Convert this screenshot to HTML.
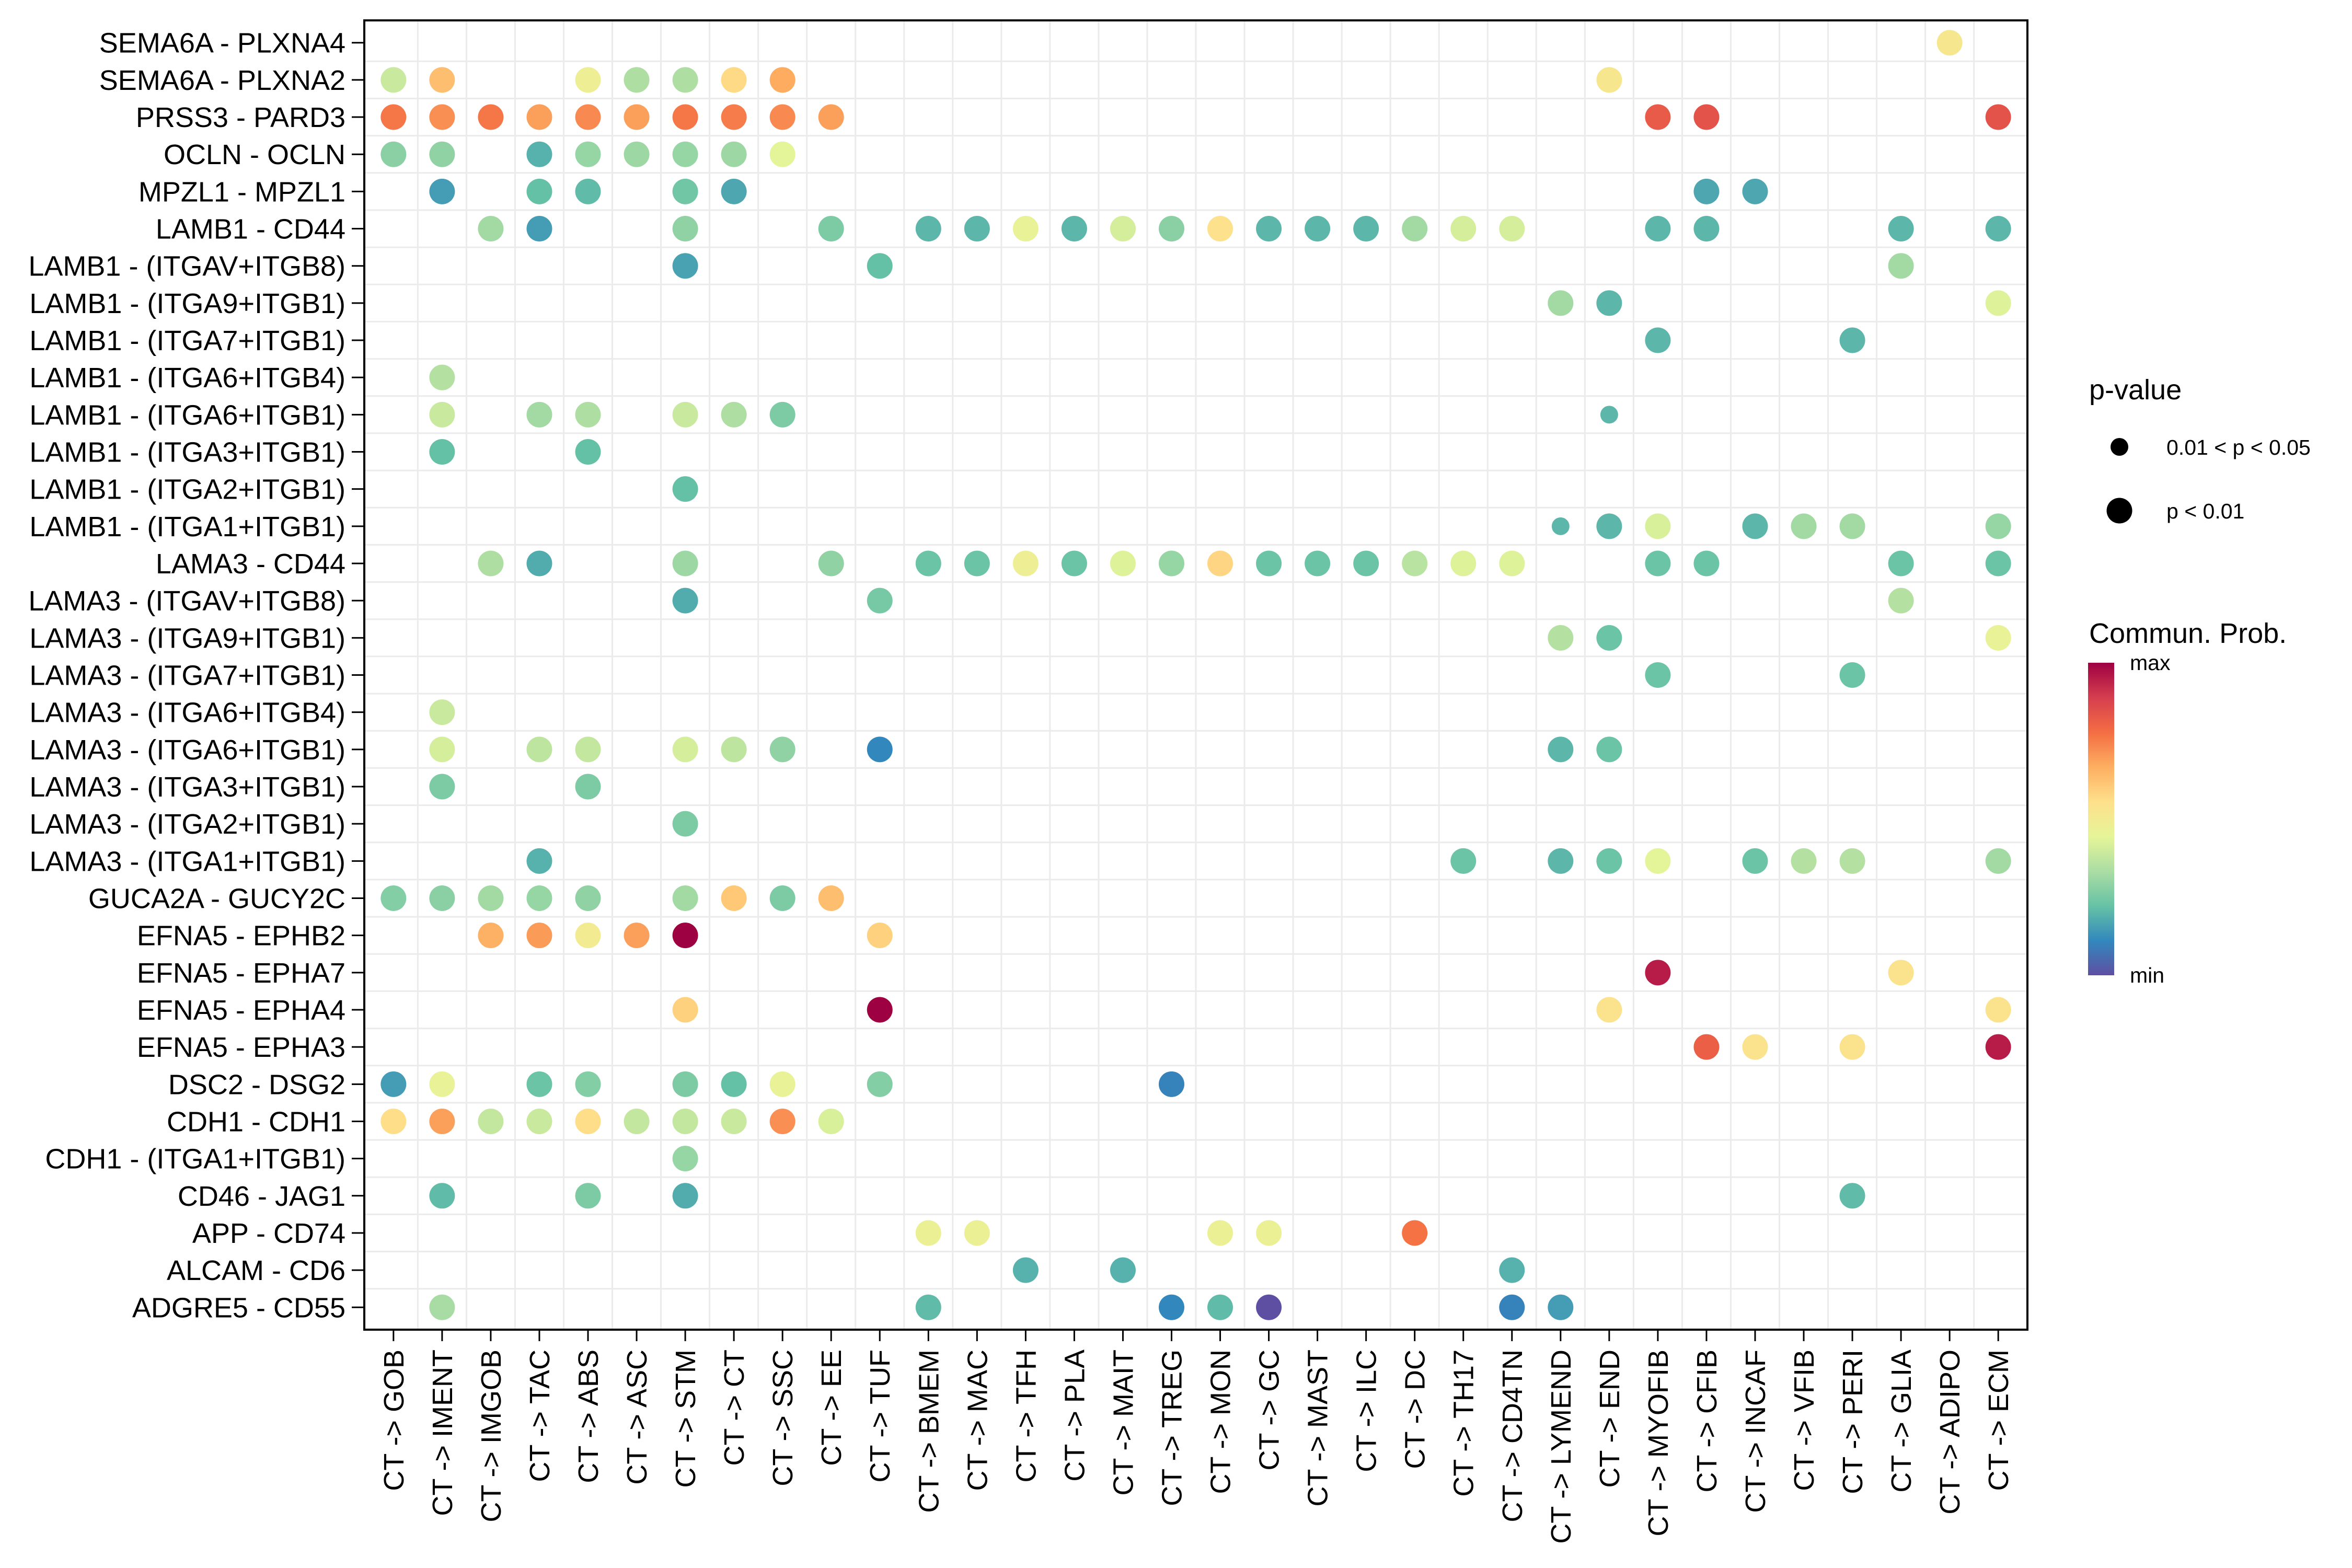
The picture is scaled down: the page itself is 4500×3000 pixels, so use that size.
<!DOCTYPE html>
<html><head><meta charset="utf-8"><style>
html,body{margin:0;padding:0;background:#fff;}
svg{display:block;font-family:"Liberation Sans",Arial,sans-serif;}
</style></head><body>
<svg id="chart" width="4500" height="3000" viewBox="0 0 4500 3000" xmlns="http://www.w3.org/2000/svg">
<defs>
<linearGradient id="spec" x1="0" y1="1" x2="0" y2="0">
<stop offset="0" stop-color="#5E4FA2"/><stop offset="0.111" stop-color="#3288BD"/><stop offset="0.222" stop-color="#66C2A5"/><stop offset="0.333" stop-color="#ABDDA4"/><stop offset="0.444" stop-color="#E6F598"/><stop offset="0.556" stop-color="#FEE08B"/><stop offset="0.667" stop-color="#FDAE61"/><stop offset="0.778" stop-color="#F46D43"/><stop offset="0.889" stop-color="#D53E4F"/><stop offset="1" stop-color="#9E0142"/>
</linearGradient>
</defs>
<g id="grid"></g>
<g id="dots"></g>
<rect x="697" y="39" width="3182" height="2505" fill="none" stroke="#000" stroke-width="4"/>
<g id="yaxis"></g>
<g id="xaxis"></g>
<g>
<text x="3997" y="764" font-size="54">p-value</text>
<circle cx="4055" cy="855" r="17" fill="#000"/>
<text x="4145" y="870" font-size="41">0.01 &lt; p &lt; 0.05</text>
<circle cx="4055" cy="977" r="24.5" fill="#000"/>
<text x="4145" y="992" font-size="41">p &lt; 0.01</text>
</g>
<g>
<text x="3997" y="1230" font-size="54">Commun. Prob.</text>
<rect x="3995" y="1268" width="50" height="598" fill="url(#spec)"/>
<text x="4075" y="1282" font-size="41">max</text>
<text x="4075" y="1880" font-size="41">min</text>
</g>
</svg>
<script>
const pairs = ["SEMA6A - PLXNA4","SEMA6A - PLXNA2","PRSS3 - PARD3","OCLN - OCLN","MPZL1 - MPZL1","LAMB1 - CD44","LAMB1 - (ITGAV+ITGB8)","LAMB1 - (ITGA9+ITGB1)","LAMB1 - (ITGA7+ITGB1)","LAMB1 - (ITGA6+ITGB4)","LAMB1 - (ITGA6+ITGB1)","LAMB1 - (ITGA3+ITGB1)","LAMB1 - (ITGA2+ITGB1)","LAMB1 - (ITGA1+ITGB1)","LAMA3 - CD44","LAMA3 - (ITGAV+ITGB8)","LAMA3 - (ITGA9+ITGB1)","LAMA3 - (ITGA7+ITGB1)","LAMA3 - (ITGA6+ITGB4)","LAMA3 - (ITGA6+ITGB1)","LAMA3 - (ITGA3+ITGB1)","LAMA3 - (ITGA2+ITGB1)","LAMA3 - (ITGA1+ITGB1)","GUCA2A - GUCY2C","EFNA5 - EPHB2","EFNA5 - EPHA7","EFNA5 - EPHA4","EFNA5 - EPHA3","DSC2 - DSG2","CDH1 - CDH1","CDH1 - (ITGA1+ITGB1)","CD46 - JAG1","APP - CD74","ALCAM - CD6","ADGRE5 - CD55"];
const targets = ["GOB","IMENT","IMGOB","TAC","ABS","ASC","STM","CT","SSC","EE","TUF","BMEM","MAC","TFH","PLA","MAIT","TREG","MON","GC","MAST","ILC","DC","TH17","CD4TN","LYMEND","END","MYOFIB","CFIB","INCAF","VFIB","PERI","GLIA","ADIPO","ECM"];
// per row: "TARGET:prob" entries; suffix "s" = 0.01<p<0.05 (small dot)
const rowDots = [
"ADIPO:0.52",
"GOB:0.39 IMENT:0.63 ABS:0.48 ASC:0.34 STM:0.34 CT:0.57 SSC:0.67 END:0.52",
"GOB:0.76 IMENT:0.72 IMGOB:0.76 TAC:0.69 ABS:0.73 ASC:0.69 STM:0.76 CT:0.75 SSC:0.73 EE:0.69 MYOFIB:0.82 CFIB:0.84 ECM:0.84",
"GOB:0.28 IMENT:0.29 TAC:0.19 ABS:0.30 ASC:0.31 STM:0.30 CT:0.31 SSC:0.44",
"IMENT:0.15 TAC:0.22 ABS:0.21 STM:0.24 CT:0.17 CFIB:0.17 INCAF:0.17",
"IMGOB:0.32 TAC:0.15 STM:0.29 EE:0.26 BMEM:0.20 MAC:0.20 TFH:0.46 PLA:0.20 MAIT:0.41 TREG:0.28 MON:0.55 GC:0.20 MAST:0.20 ILC:0.20 DC:0.32 TH17:0.41 CD4TN:0.41 MYOFIB:0.20 CFIB:0.20 GLIA:0.20 ECM:0.20",
"STM:0.16 TUF:0.22 GLIA:0.32",
"LYMEND:0.32 END:0.20 ECM:0.43",
"MYOFIB:0.20 PERI:0.20",
"IMENT:0.35",
"IMENT:0.39 TAC:0.32 ABS:0.34 STM:0.39 CT:0.34 SSC:0.26 END:0.20s",
"IMENT:0.22 ABS:0.22",
"STM:0.22",
"LYMEND:0.20s END:0.20 MYOFIB:0.42 INCAF:0.20 VFIB:0.32 PERI:0.32 ECM:0.30",
"IMGOB:0.34 TAC:0.18 STM:0.31 EE:0.29 BMEM:0.23 MAC:0.23 TFH:0.48 PLA:0.23 MAIT:0.43 TREG:0.30 MON:0.58 GC:0.23 MAST:0.23 ILC:0.23 DC:0.36 TH17:0.43 CD4TN:0.43 MYOFIB:0.23 CFIB:0.23 GLIA:0.23 ECM:0.23",
"STM:0.18 TUF:0.25 GLIA:0.35",
"LYMEND:0.35 END:0.23 ECM:0.46",
"MYOFIB:0.23 PERI:0.23",
"IMENT:0.39",
"IMENT:0.41 TAC:0.37 ABS:0.38 STM:0.41 CT:0.37 SSC:0.29 TUF:0.11 LYMEND:0.20 END:0.23",
"IMENT:0.26 ABS:0.26",
"STM:0.26",
"TAC:0.19 TH17:0.23 LYMEND:0.20 END:0.23 MYOFIB:0.44 INCAF:0.23 VFIB:0.35 PERI:0.35 ECM:0.32",
"GOB:0.27 IMENT:0.28 IMGOB:0.32 TAC:0.30 ABS:0.29 STM:0.32 CT:0.61 SSC:0.26 EE:0.63",
"IMGOB:0.66 TAC:0.70 ABS:0.50 ASC:0.69 STM:1.00 TUF:0.59",
"MYOFIB:0.95 GLIA:0.54",
"STM:0.59 TUF:1.00 END:0.54 ECM:0.54",
"CFIB:0.81 INCAF:0.54 PERI:0.54 ECM:0.95",
"GOB:0.15 IMENT:0.46 TAC:0.23 ABS:0.27 STM:0.26 CT:0.22 SSC:0.46 TUF:0.27 TREG:0.10",
"GOB:0.56 IMENT:0.69 IMGOB:0.38 TAC:0.39 ABS:0.56 ASC:0.38 STM:0.38 CT:0.39 SSC:0.72 EE:0.42",
"STM:0.30",
"IMENT:0.21 ABS:0.26 STM:0.18 PERI:0.21",
"BMEM:0.47 MAC:0.47 MON:0.47 GC:0.47 DC:0.77",
"TFH:0.19 MAIT:0.19 CD4TN:0.19",
"IMENT:0.33 BMEM:0.21 TREG:0.11 MON:0.21 GC:0.00 CD4TN:0.10 LYMEND:0.15"
];
const palette = ["#5E4FA2","#3288BD","#66C2A5","#ABDDA4","#E6F598","#FEE08B","#FDAE61","#F46D43","#D53E4F","#9E0142"];
const sizeLevels = [17, 24.5];

const NS = "http://www.w3.org/2000/svg";
const PX0 = 697, PX1 = 3879, PY0 = 39, PY1 = 2544;
const xStep = (PX1 - PX0) / (targets.length - 1 + 1.2);
const yStep = (PY1 - PY0) / (pairs.length - 1 + 1.2);
function xPos(i){ return PX0 + (0.6 + i) * xStep; }
function yPos(j){ return PY0 + (0.6 + j) * yStep; }
function hex(h){ return [parseInt(h.substr(1,2),16),parseInt(h.substr(3,2),16),parseInt(h.substr(5,2),16)]; }
function colorOf(v){
  const t = Math.max(0, Math.min(1, v)) * (palette.length - 1);
  const k = Math.min(palette.length - 2, Math.floor(t)), f = t - k;
  const a = hex(palette[k]), b = hex(palette[k+1]);
  return "rgb(" + a.map((c,i)=>Math.round(c + (b[i]-c)*f)).join(",") + ")";
}
function mk(tag, attrs, parent){
  const el = document.createElementNS(NS, tag);
  for (const k in attrs) el.setAttribute(k, attrs[k]);
  parent.appendChild(el);
  return el;
}
const grid = document.getElementById("grid");
for (let i = 0; i < targets.length - 1; i++) {
  const x = (xPos(i) + xPos(i+1)) / 2;
  const ln = mk("line", {x1:x, x2:x, y1:PY0, y2:PY1, stroke:"#ebebeb", "stroke-width":3}, grid);
  
  
}
for (let j = 0; j < pairs.length - 1; j++) {
  const y = (yPos(j) + yPos(j+1)) / 2;
  const ln = mk("line", {x1:PX0, x2:PX1, y1:y, y2:y, stroke:"#ebebeb", "stroke-width":3}, grid);
  
  
}
const yax = document.getElementById("yaxis");
pairs.forEach((p, j) => {
  const y = yPos(j);
  const tk = mk("line", {x1:PX0-24, x2:PX0, y1:y, y2:y, stroke:"#000", "stroke-width":3}, yax);
  
  
  const t = mk("text", {x:PX0-36, y:y+19, "font-size":54, "text-anchor":"end", fill:"#000"}, yax);
  t.textContent = p;
  
  
});
const xax = document.getElementById("xaxis");
targets.forEach((c, i) => {
  const x = xPos(i);
  const tk = mk("line", {x1:x, x2:x, y1:PY1, y2:PY1+22, stroke:"#000", "stroke-width":3}, xax);
  
  
  const t = mk("text", {transform:"translate(" + (x+19) + "," + (PY1+38) + ") rotate(-90)", "font-size":54, "text-anchor":"end", fill:"#000"}, xax);
  t.textContent = "CT -> " + c;
  
  
});
const dg = document.getElementById("dots");
rowDots.forEach((row, j) => {
  row.trim().split(/\s+/).forEach(entry => {
    const parts = entry.split(":");
    const small = parts[1].endsWith("s");
    const v = parseFloat(parts[1]);
    const i = targets.indexOf(parts[0]);
    const c = mk("circle", {cx:xPos(i), cy:yPos(j), r: small ? sizeLevels[0] : sizeLevels[1], fill: colorOf(v)}, dg);
    
    
  });
});
</script>
</body></html>
